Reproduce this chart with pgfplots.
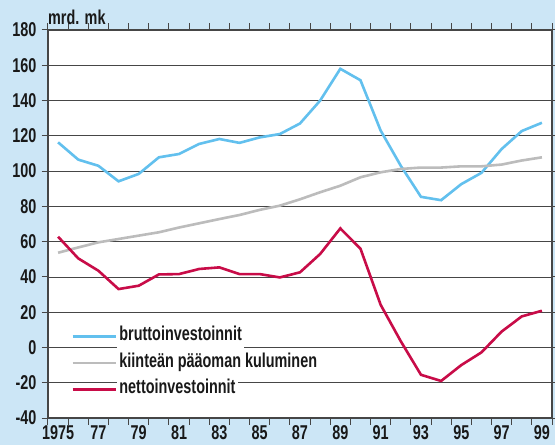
\documentclass[border=0pt]{standalone}
\usepackage{fontspec}
\setmainfont{Liberation Sans}[FakeStretch=0.72, UprightFont=*-Bold]
\usepackage{pgfplots}
\pgfplotsset{compat=1.18}

\definecolor{bgblue}{RGB}{204,230,246}
\definecolor{brutto}{RGB}{98,192,238}
\definecolor{kulu}{RGB}{188,188,188}
\definecolor{netto}{RGB}{200,12,72}
\definecolor{gridc}{RGB}{70,70,70}
\definecolor{txt}{RGB}{25,25,25}

\pgfplotstableread{
year brutto kulu netto
1975 116.3 53.7 62.8
1976 106.5 56.7 50.5
1977 103.0 59.6 43.5
1978 94.2 61.5 33.1
1979 98.4 63.4 35.0
1980 107.8 65.3 41.4
1981 109.7 68.0 41.6
1982 115.4 70.4 44.5
1983 118.2 72.8 45.4
1984 116.0 75.1 41.6
1985 119.1 78.0 41.6
1986 121.0 80.4 39.7
1987 127.0 84.0 42.6
1988 140.0 88.0 53.0
1989 158.0 91.7 67.5
1990 151.5 96.5 56.0
1991 123.0 99.3 24.2
1992 103.0 101.2 3.5
1993 85.4 102.0 -15.5
1994 83.5 102.0 -19.0
1995 92.6 102.7 -10.0
1996 99.0 102.7 -2.8
1997 112.5 103.7 9.0
1998 122.7 106.0 17.6
1999 127.4 107.8 20.8
}\invdata

\begin{document}
\begin{tikzpicture}[font=\fontsize{20bp}{24bp}\selectfont, text=txt]
\fill[bgblue, use as bounding box] (-48bp,-27bp) rectangle (507bp,418bp);
\begin{axis}[
    at={(0,0)}, anchor=south west,
    scale only axis,
    width=504bp, height=388bp,
    xmin=1974.5, xmax=1999.5,
    ymin=-40, ymax=180,
    ytick={-40,-20,...,180},
    xtick={1974.5,1975.5,...,1999.5},
    xticklabels={},
    extra x ticks={1975,1977,...,1999},
    extra x tick labels={1975,77,79,81,83,85,87,89,91,93,95,97,99},
    extra x tick style={major tick length=0pt, grid=none},
    tick align=outside,
    major tick length=6.5bp,
    tick style={gridc, line width=1bp},
    axis line style={gridc, line width=1.3bp},
    axis background/.style={fill=white},
    ymajorgrids=true,
    grid style={gridc, line width=0.8bp},
    /pgf/number format/assume math mode=true,
    yticklabel style={xshift=-1.5bp},
    extra x tick style={xticklabel style={yshift=-4.5bp}},
    clip=false,
    legend cell align=left,
    legend image code/.code={
        \path[draw=none, fill=none] (0bp,-9bp) rectangle (43bp,11bp);
        \draw[#1] (0bp,0bp) -- (43bp,0bp);},
    legend style={at={(0.04,0.25)}, anchor=north west, draw=none, fill=none,
        column sep=0pt, row sep=0pt,
        nodes={fill=white, inner sep=2.5bp, text height=15bp, text depth=6.5bp}},
]
\node[anchor=south west, inner sep=0pt] at (rel axis cs:0,1) [yshift=5bp] {mrd. mk};
\addplot[brutto, line width=2.6bp] table[x=year, y=brutto] {\invdata};
\addlegendentry{bruttoinvestoinnit}
\addplot[kulu, line width=2.6bp] table[x=year, y=kulu] {\invdata};
\addlegendentry{kiinteän pääoman kuluminen}
\addplot[netto, line width=2.6bp] table[x=year, y=netto] {\invdata};
\addlegendentry{nettoinvestoinnit}
\end{axis}
\end{tikzpicture}
\end{document}
